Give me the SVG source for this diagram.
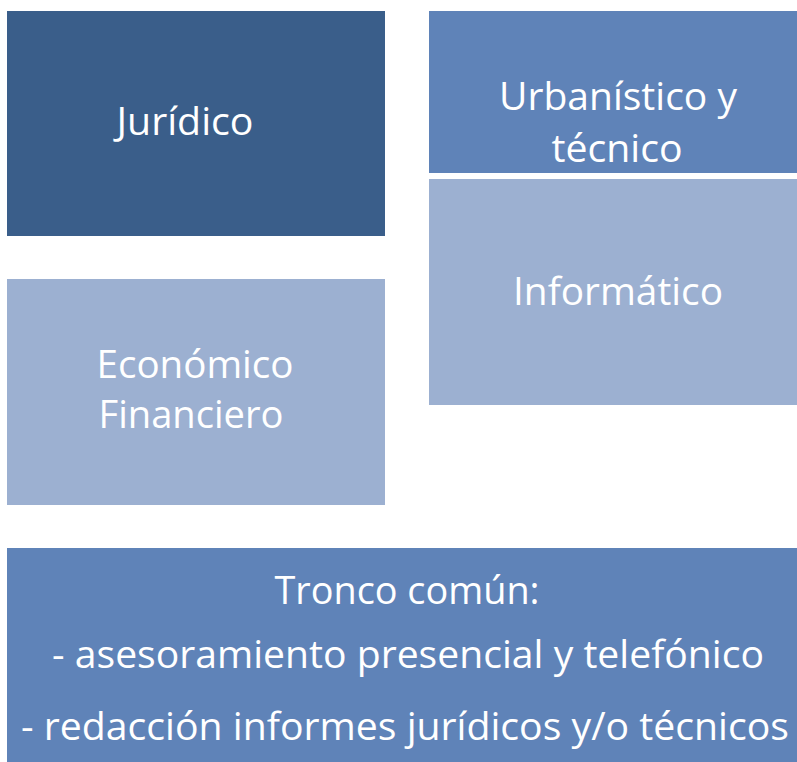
<svg xmlns="http://www.w3.org/2000/svg" width="797" height="762" viewBox="0 0 797 762">
<style>
text{font-family:"Open Sans","Noto Sans","Liberation Sans",sans-serif;font-size:39px;fill:#ffffff;text-anchor:middle}
.dark{fill:#3A5E8A}
.mid{fill:#5F83B8}
.light{fill:#9CB0D1}
</style>
<rect width="797" height="762" fill="#ffffff"/>
<g id="juridico">
<rect class="dark" x="7" y="11" width="378" height="225"/>
<text x="185" y="135" textLength="137" lengthAdjust="spacingAndGlyphs">Jurídico</text>
</g>
<g id="urbanistico">
<rect class="mid" x="429" y="11" width="368" height="162"/>
<text x="618" y="110" textLength="238" lengthAdjust="spacingAndGlyphs">Urbanístico y</text>
<text x="617" y="162" textLength="131" lengthAdjust="spacingAndGlyphs">técnico</text>
</g>
<g id="informatico">
<rect class="light" x="429" y="179" width="368" height="226"/>
<text x="618" y="305" textLength="210" lengthAdjust="spacingAndGlyphs">Informático</text>
</g>
<g id="economico">
<rect class="light" x="7" y="279" width="378" height="226"/>
<text x="195" y="378" textLength="197" lengthAdjust="spacingAndGlyphs">Económico</text>
<text x="191" y="428" textLength="185" lengthAdjust="spacingAndGlyphs">Financiero</text>
</g>
<g id="tronco">
<rect class="mid" x="7" y="548" width="790" height="214"/>
<text x="407" y="604" textLength="265" lengthAdjust="spacingAndGlyphs">Tronco común:</text>
<text x="408" y="668" textLength="712" lengthAdjust="spacingAndGlyphs">- asesoramiento presencial y telefónico</text>
<text x="405" y="740" textLength="768" lengthAdjust="spacingAndGlyphs">- redacción informes jurídicos y/o técnicos</text>
</g>
<g id="connectors"/>
</svg>
